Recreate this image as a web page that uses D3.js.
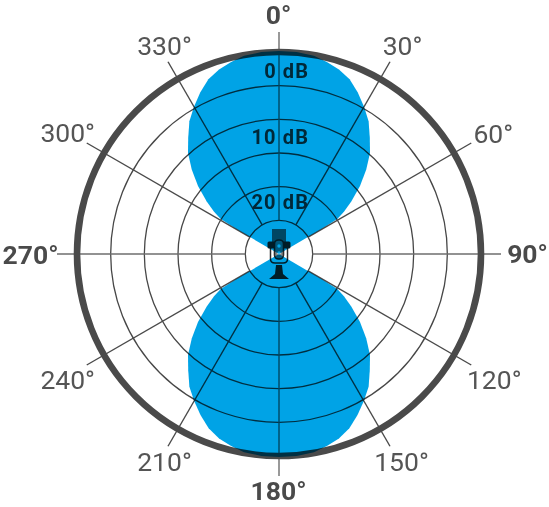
<!DOCTYPE html>
<html><head><meta charset="utf-8">
<script src="https://cdn.jsdelivr.net/npm/d3@7/dist/d3.min.js"></script>
<style>html,body{margin:0;padding:0;background:#fff}svg{display:block}
text{font-family:Roboto,sans-serif}</style></head>
<body><svg id="c" width="549" height="507"></svg>
<script>
// Polar angle (deg) and level (dB) of the pickup pattern
const frontAngles = [-60,-59.7,-59.5,-59,-57,-54,-50,-46,-42,-38,-34,-30,-26,-22,-18,-14,-10,-5,0,5,10,14,18,22,26,30,34,38,42,46,50,54,57,59,59.5,59.7,60];
const frontDb = [-30,-25.1,-22.6,-19.9,-18.5,-16.7,-14.3,-12.0,-9.8,-8.1,-6.2,-4.75,-3.3,-2.0,-1.2,-0.6,-0.1,0.1,0.15,0.1,-0.1,-0.6,-1.2,-2.0,-3.3,-4.75,-6.2,-8.1,-9.8,-12.0,-14.3,-16.7,-18.5,-19.9,-22.6,-25.1,-30];
const rearAngles = [120,120.3,120.5,121,123,126,130,134,138,142,146,150,154,158,162,166,170,175,180,185,190,194,198,202,206,210,214,218,222,226,230,234,237,239,239.5,239.7,240];
const rearDb = [-30,-25.1,-22.6,-19.9,-18.5,-16.7,-14.3,-12.0,-9.8,-8.1,-6.2,-4.8,-3.4,-2.1,-1.2,-0.6,-0.1,0.1,0.15,0.1,-0.1,-0.6,-1.2,-2.1,-3.4,-4.8,-6.2,-8.1,-9.8,-12.0,-14.3,-16.7,-18.5,-19.9,-22.6,-25.1,-30];
const gridDb = [-25,-20,-15,-10,-5];
const dbLabels = [0,-10,-20];
const angleLabels = [0,30,60,90,120,150,180,210,240,270,300,330];
const cardinalAngles = [0,90,180,270];

const cx = 279, cy = 254;
const r = d3.scaleLinear().domain([-30,0]).range([0,202]);
const angle = d3.scaleLinear().domain([0,360]).range([0,2*Math.PI]);
const innerDb = -25, spokeEnd = 222;
const labelY = d3.scaleLinear().domain([0,-20]).range([78,209]);
const ink = "#4a4a4a";

const svg = d3.select("#c");
svg.append("rect").attr("width",549).attr("height",507).attr("fill","#fff");
const g = svg.append("g").attr("transform",`translate(${cx},${cy})`);
const pol = (a,d)=>[d*Math.sin(angle(a)), -d*Math.cos(angle(a))];

// rings
g.selectAll(".ring").data(gridDb).join("circle").attr("class","ring")
 .attr("r",d=>r(d)).attr("fill","none").attr("stroke","#474747").attr("stroke-width",1.3);

// spokes
g.selectAll(".spoke").data(angleLabels).join("line").attr("class","spoke")
 .attr("x1",d=>pol(d,r(innerDb))[0]).attr("y1",d=>pol(d,r(innerDb))[1])
 .attr("x2",d=>pol(d,spokeEnd)[0]).attr("y2",d=>pol(d,spokeEnd)[1])
 .attr("stroke",d=>cardinalAngles.includes(d)?"#6e6e6e":"#4a4a4a")
 .attr("stroke-width",1.4);

// outer ring
g.append("circle").attr("r",r(0)).attr("fill","none").attr("stroke",ink).attr("stroke-width",6.6);

// angle labels
const nudgeY = {90:-1,120:5,240:5,180:-4,60:-1,300:-2,30:-1,330:-1};
const nudgeX = {210:9.5,240:3.5,300:3.5,330:9.5,150:-1.5,120:0.5,90:0.5,270:-0.5,0:-0.5,180:-0.5,30:-0.5,60:-0.5};
g.selectAll(".alab").data(angleLabels).join("text").attr("class","alab")
 .attr("text-anchor","middle")
 .attr("x",d=>248*Math.sin(angle(d))+(nudgeX[d]||0))
 .attr("y",d=>-240*Math.cos(angle(d))+9.5+(nudgeY[d]||0))
 .attr("font-size",26.5)
 .attr("font-weight",d=>cardinalAngles.includes(d)?700:400)
 .attr("fill",d=>cardinalAngles.includes(d)?ink:"#555")
 .text(d=>d+"°");

// dB labels
g.selectAll(".dlab").data(dbLabels).join("text").attr("class","dlab")
 .attr("text-anchor","end").attr("x",309-cx).attr("y",d=>labelY(d)-cy)
 .attr("font-size",20).attr("font-weight",700).attr("letter-spacing",1.1)
 .attr("fill","#3e3e3e").text(d=>`${-d} dB`);

// microphone glyph
const mic = g.append("g");
mic.append("rect").attr("x",-7).attr("y",-25).attr("width",14).attr("height",17).attr("fill","#6f6f6f");
mic.append("rect").attr("x",-11.5).attr("y",-12.5).attr("width",23).attr("height",7).attr("rx",1.5).attr("fill","#2c2c2c");
mic.append("rect").attr("x",-4.5).attr("y",-14).attr("width",9).attr("height",19).attr("rx",4).attr("fill","#8a8a8a").attr("stroke","#2c2c2c").attr("stroke-width",1.6);
mic.append("circle").attr("cy",-8).attr("r",1.7).attr("fill","#fff");
mic.append("circle").attr("cy",-1).attr("r",1.7).attr("fill","#fff");
mic.append("path").attr("d","M-8.5,-6V5Q-8.5,9 -4,9H4Q8.5,9 8.5,5V-6").attr("fill","none").attr("stroke","#2c2c2c").attr("stroke-width",1.5);
mic.append("path").attr("d","M-3,11H3L4,20L10,25H-10L-4,20Z").attr("fill","#2c2c2c");

// pattern lobes
const radial = d3.lineRadial().angle(d=>angle(d[0])).radius(d=>r(d[1])).curve(d3.curveLinear);
[[frontAngles,frontDb],[rearAngles,rearDb]].forEach(([a,v])=>{
  g.append("path").attr("d",radial(d3.zip(a,v))+"Z")
   .attr("fill","#00a3e6").style("mix-blend-mode","multiply");
});
</script></body></html>
